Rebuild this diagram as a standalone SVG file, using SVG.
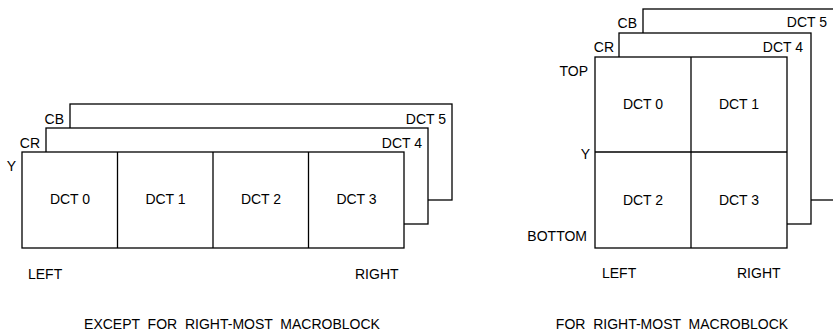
<svg xmlns="http://www.w3.org/2000/svg" width="833" height="335" viewBox="0 0 833 335">
<style>
.b{fill:#fff;stroke:#000;stroke-width:1.3}
.l{fill:none;stroke:#000;stroke-width:1.3}
text{font-family:"Liberation Sans",Arial,Helvetica,sans-serif;font-size:14px;fill:#000}
.e{text-anchor:end}
.m{text-anchor:middle}
</style>
<rect width="833" height="335" fill="#fff"/>
<g id="left-macroblock">
  <g id="left-cb">
    <rect class="b" x="70" y="104" width="382" height="96"/>
    <text class="e" x="64" y="124">CB</text>
    <text class="e" x="446" y="124">DCT 5</text>
  </g>
  <g id="left-cr">
    <rect class="b" x="46" y="128" width="382" height="96"/>
    <text class="e" x="40" y="148">CR</text>
    <text class="e" x="422" y="148">DCT 4</text>
  </g>
  <g id="left-y">
    <rect class="b" x="22" y="152" width="382" height="96"/>
    <line class="l" x1="117.5" y1="152" x2="117.5" y2="248"/>
    <line class="l" x1="213" y1="152" x2="213" y2="248"/>
    <line class="l" x1="308.5" y1="152" x2="308.5" y2="248"/>
    <text class="e" x="16" y="171">Y</text>
    <text class="m" x="70" y="204">DCT 0</text>
    <text class="m" x="165.5" y="204">DCT 1</text>
    <text class="m" x="261" y="204">DCT 2</text>
    <text class="m" x="356.5" y="204">DCT 3</text>
  </g>
  <text x="28" y="279">LEFT</text>
  <text x="355" y="279">RIGHT</text>
  <text class="m" x="232" y="329" xml:space="preserve">EXCEPT  FOR  RIGHT-MOST  MACROBLOCK</text>
</g>
<g id="right-macroblock">
  <g id="right-cb">
    <rect class="b" x="643" y="9" width="200" height="191"/>
    <text class="e" x="637" y="28">CB</text>
    <text class="e" x="827" y="27">DCT 5</text>
  </g>
  <g id="right-cr">
    <rect class="b" x="619" y="33" width="192" height="191"/>
    <text class="e" x="614" y="52">CR</text>
    <text class="e" x="803" y="52">DCT 4</text>
  </g>
  <g id="right-y">
    <rect class="b" x="595" y="57" width="192" height="191"/>
    <line class="l" x1="691" y1="57" x2="691" y2="248"/>
    <line class="l" x1="595" y1="152" x2="787" y2="152"/>
    <text class="e" x="588" y="76">TOP</text>
    <text class="e" x="590" y="159">Y</text>
    <text class="e" x="587" y="241">BOTTOM</text>
    <text class="m" x="643" y="109">DCT 0</text>
    <text class="m" x="739" y="109">DCT 1</text>
    <text class="m" x="643" y="205">DCT 2</text>
    <text class="m" x="739" y="205">DCT 3</text>
  </g>
  <text x="602" y="278">LEFT</text>
  <text x="737" y="278">RIGHT</text>
  <text class="m" x="672" y="329" xml:space="preserve">FOR  RIGHT-MOST  MACROBLOCK</text>
</g>
<g id="connectors"/>
</svg>
